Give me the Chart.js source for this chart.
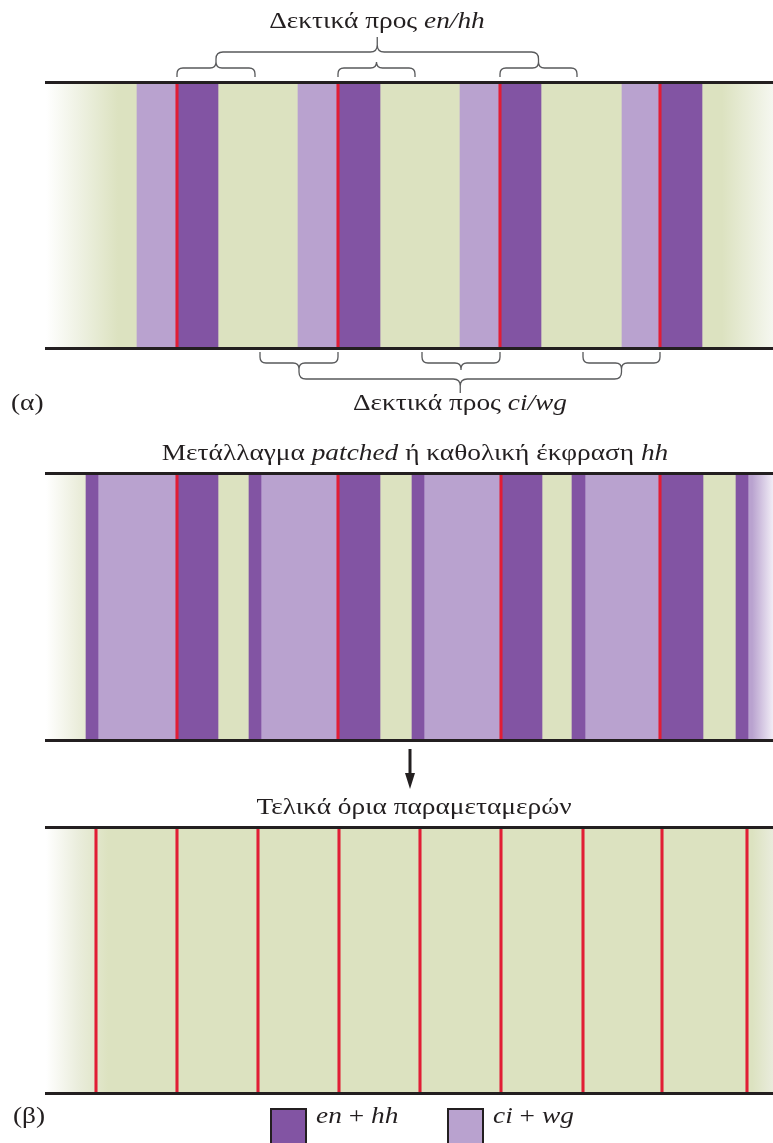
<!DOCTYPE html>
<html>
<head>
<meta charset="utf-8">
<script src="https://cdn.jsdelivr.net/npm/chart.js@4.4.1/dist/chart.umd.min.js"></script>
<style>
  body { margin: 0; background: #fff; }
  #page { position: relative; width: 773px; height: 1143px; overflow: hidden;
          font-family: 'Liberation Serif', 'DejaVu Serif', serif; color: #231f20; }
  #page canvas { position: absolute; left: 0; }
  .t { position: absolute; white-space: nowrap; font-size: 24px; line-height: 24px;
       transform: scaleX(1.14); transform-origin: left center; }
  .c { transform: translateX(-50%) scaleX(1.14); transform-origin: center center; }
  .box { position: absolute; width: 33px; height: 36px; border: 2px solid #231f20; }
</style>
</head>
<body>
<div id="page">
  <canvas id="panelA" width="773" height="430" style="top:0px"></canvas>
  <canvas id="panelB" width="773" height="330" style="top:430px"></canvas>
  <canvas id="panelC" width="773" height="383" style="top:760px"></canvas>

  <div class="t c" style="left:377px; top:8px">Δεκτικά προς <i>en/hh</i></div>
  <div class="t c" style="left:460px; top:390px">Δεκτικά προς <i>ci/wg</i></div>
  <div class="t" style="left:11px; top:390px">(α)</div>
  <div class="t c" style="left:415px; top:440px">Μετάλλαγμα <i>patched</i> ή καθολική έκφραση <i>hh</i></div>
  <div class="t c" style="left:414px; top:794px">Τελικά όρια παραμεταμερών</div>
  <div class="t" style="left:13px; top:1103px">(β)</div>

  <svg style="position:absolute; left:400px; top:746px" width="20" height="46">
    <line x1="10" y1="3" x2="10" y2="30" stroke="#231f20" stroke-width="3"/>
    <polygon points="5,27 15,27 10,43" fill="#231f20"/>
  </svg>

  <div class="box" style="left:270px; top:1108px; background:#8254a3"></div>
  <div class="t" style="left:316px; top:1103px"><i>en</i> + <i>hh</i></div>
  <div class="box" style="left:447px; top:1108px; background:#b9a2cf"></div>
  <div class="t" style="left:493px; top:1103px"><i>ci</i> + <i>wg</i></div>
</div>

<script>
// horizontal positions, in page x units
const X_MIN = 46;
const X_MAX = 773;

// (α) wild type: en+hh and ci+wg stripes, parasegment boundaries
const panelA_enHh = [[177, 218], [338, 380], [500, 541], [660, 702]];
const panelA_ciWg = [[137, 177], [298, 338], [460, 500], [622, 660]];
const panelA_bounds = [177, 338, 500, 660];

// (β) patched mutant / uniform hh expression
const panelB_enHh = [[86, 98], [177, 218], [249, 261], [338, 380], [412, 424], [501, 542], [572, 585], [660, 703], [736, 748]];
const panelB_ciWg = [[98, 177], [261, 338], [424, 501], [585, 660], [748, 773]];
const panelB_bounds = [177, 338, 501, 660];

// (β) final parasegment boundaries
const panelC_bounds = [96, 177, 258, 339, 420, 501, 583, 662, 747];

// braces: cells competent for en/hh (above) and ci/wg (below)
const braceEnHh = [[177, 255], [338, 415], [500, 577]];
const braceCiWg = [[260, 338], [422, 500], [583, 660]];

const EN_COLOR = '#8254a3';
const CI_COLOR = '#b9a2cf';
const TISSUE = '#dce2c0';
const BOUND = '#e11d35';
const BOUND_W = 2.4;

function fade(color, stops) {
  return (c) => {
    const chart = c.chart;
    const x = chart.scales.x;
    if (!chart.chartArea || !x) return color;
    const g = chart.ctx.createLinearGradient(x.getPixelForValue(X_MIN), 0, x.getPixelForValue(X_MAX), 0);
    stops.forEach(([v, col]) => g.addColorStop((v - X_MIN) / (X_MAX - X_MIN), col));
    return g;
  };
}

function stripes(ranges, color) {
  return ranges.map(r => ({ data: [r], backgroundColor: color }));
}
function boundaries(list) {
  return list.map(b => ({ data: [[b - BOUND_W / 2, b + BOUND_W / 2]], backgroundColor: BOUND }));
}

function brace(ctx, x1, x2, yEnd, yMid, yTip, r) {
  const xm = (x1 + x2) / 2, dir = Math.sign(yTip - yMid);
  ctx.beginPath();
  ctx.moveTo(x1, yEnd);
  ctx.lineTo(x1, yMid - dir * r);
  ctx.quadraticCurveTo(x1, yMid, x1 + r, yMid);
  ctx.lineTo(xm - r, yMid);
  ctx.quadraticCurveTo(xm, yMid, xm, yMid + dir * r);
  ctx.lineTo(xm, yTip);
  ctx.moveTo(xm, yMid + dir * r);
  ctx.quadraticCurveTo(xm, yMid, xm + r, yMid);
  ctx.lineTo(x2 - r, yMid);
  ctx.quadraticCurveTo(x2, yMid, x2, yMid - dir * r);
  ctx.lineTo(x2, yEnd);
  ctx.stroke();
}

const bracePlugin = {
  id: 'braces',
  afterDraw(chart) {
    const { ctx, chartArea: a, scales: { x } } = chart;
    ctx.save();
    ctx.strokeStyle = '#58595b';
    ctx.lineWidth = 1.3;
    const px = v => x.getPixelForValue(v);
    braceEnHh.forEach(([s, e]) => brace(ctx, px(s), px(e), a.top - 5, a.top - 14, a.top - 20, 6));
    brace(ctx, px((braceEnHh[0][0] + braceEnHh[0][1]) / 2), px((braceEnHh[2][0] + braceEnHh[2][1]) / 2),
      a.top - 20, a.top - 30, a.top - 45, 7);
    braceCiWg.forEach(([s, e]) => brace(ctx, px(s), px(e), a.bottom + 4, a.bottom + 15, a.bottom + 22, 6));
    brace(ctx, px((braceCiWg[0][0] + braceCiWg[0][1]) / 2), px((braceCiWg[2][0] + braceCiWg[2][1]) / 2),
      a.bottom + 22, a.bottom + 31, a.bottom + 45, 7);
    ctx.restore();
  }
};

function edgeAxis(position) {
  return {
    type: 'linear', position, min: X_MIN, max: X_MAX,
    grid: { display: false, drawTicks: false },
    ticks: { display: false },
    border: { display: true, color: '#231f20', width: 3, z: 1 }
  };
}

function panel(id, datasets, pad, plugins) {
  return new Chart(document.getElementById(id), {
    type: 'bar',
    data: { labels: ['band'], datasets },
    options: {
      indexAxis: 'y',
      responsive: false,
      animation: false,
      layout: { padding: { left: X_MIN, right: 0, top: pad[0], bottom: pad[1] } },
      datasets: { bar: { grouped: false, barPercentage: 1, categoryPercentage: 1, borderWidth: 0 } },
      plugins: { legend: { display: false }, tooltip: { enabled: false } },
      scales: {
        x: edgeAxis('bottom'),
        xTop: edgeAxis('top'),
        y: { display: false }
      }
    },
    plugins: plugins || []
  });
}

// datasets listed top layer first
panel('panelA', [
  ...boundaries(panelA_bounds),
  ...stripes(panelA_enHh, EN_COLOR),
  ...stripes(panelA_ciWg, CI_COLOR),
  { data: [[X_MIN, X_MAX]], backgroundColor: fade(TISSUE, [[46, '#ffffff'], [80, '#eef1e2'], [118, TISSUE], [722, TISSUE], [773, '#f5f7f0']]) }
], [82, 82], [bracePlugin]);

panel('panelB', [
  ...boundaries(panelB_bounds),
  ...stripes(panelB_enHh, EN_COLOR),
  ...panelB_ciWg.map(r => ({ data: [r], backgroundColor: fade(CI_COLOR, [[46, CI_COLOR], [752, CI_COLOR], [773, '#f1edf6']]) })),
  { data: [[X_MIN, X_MAX]], backgroundColor: fade(TISSUE, [[46, '#ffffff'], [86, '#e6e9d3'], [100, TISSUE], [773, TISSUE]]) }
], [43, 20]);

panel('panelC', [
  ...boundaries(panelC_bounds),
  { data: [[X_MIN, X_MAX]], backgroundColor: fade(TISSUE, [[46, '#ffffff'], [78, '#eaeddc'], [108, TISSUE], [752, TISSUE], [773, '#e9ecdc']]) }
], [67, 50]);
</script>
</body>
</html>
